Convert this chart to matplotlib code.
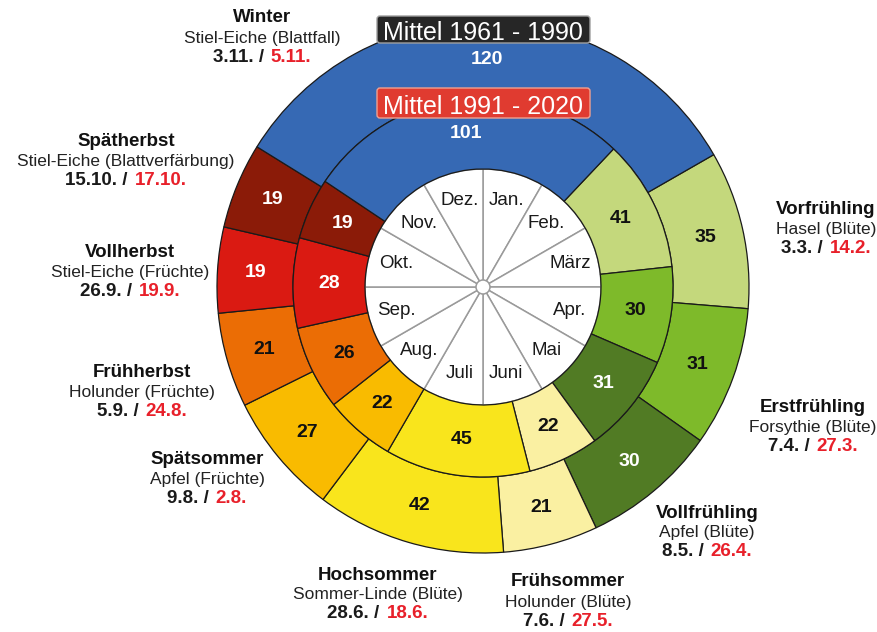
import numpy as np
import matplotlib.pyplot as plt
from matplotlib.patches import Circle, FancyBboxPatch

plt.rcParams['font.family'] = ['Liberation Sans', 'DejaVu Sans']

# phenologische Jahreszeiten, im Uhrzeigersinn ab Vorfruehling
phases = ['Vorfrühling', 'Erstfrühling', 'Vollfrühling', 'Frühsommer', 'Hochsommer',
          'Spätsommer', 'Frühherbst', 'Vollherbst', 'Spätherbst', 'Winter']
indicators = ['Hasel (Blüte)', 'Forsythie (Blüte)', 'Apfel (Blüte)', 'Holunder (Blüte)',
              'Sommer-Linde (Blüte)', 'Apfel (Früchte)', 'Holunder (Früchte)',
              'Stiel-Eiche (Früchte)', 'Stiel-Eiche (Blattverfärbung)', 'Stiel-Eiche (Blattfall)']
days_6190 = [35, 31, 30, 21, 42, 27, 21, 19, 19, 120]
days_9120 = [41, 30, 31, 22, 45, 22, 26, 28, 19, 101]
start_6190 = ['3.3.', '7.4.', '8.5.', '7.6.', '28.6.', '9.8.', '5.9.', '26.9.', '15.10.', '3.11.']
start_9120 = ['14.2.', '27.3.', '26.4.', '27.5.', '18.6.', '2.8.', '24.8.', '19.9.', '17.10.', '5.11.']
months = ['Jan.', 'Feb.', 'März', 'Apr.', 'Mai', 'Juni', 'Juli', 'Aug.', 'Sep.', 'Okt.', 'Nov.', 'Dez.']

colors = ['#c4d87c', '#7eba2a', '#517b24', '#faf0a2', '#f9e51c',
          '#f9bb00', '#eb6d05', '#da1a12', '#8b1b08', '#3669b4']
white_txt = [False, False, True, False, False, False, False, True, True, True]

# label anchors in pixel coords (x, y of first line)
label_pos = [(826, 210), (813, 408), (707, 513), (568, 582), (378, 575),
             (207, 460), (142, 373), (130, 253), (126, 142), (262, 18)]

CX, CY = 483, 287
R_MON, R_MID, R_OUT = 118, 190, 266
cum = np.cumsum([0, 31, 28, 31, 30, 31, 30, 31, 31, 30, 31, 30])


def doy(s):
    d, m = s.strip('.').split('.')
    return cum[int(m) - 1] + int(d) - 1


def P(px, py):
    return px - CX, CY - py


fig = plt.figure(figsize=(8.78, 6.32), dpi=100)
ax = fig.add_axes([0, 0, 1, 1])

# months
ax.pie([1] * 12, radius=R_MON, startangle=90, counterclock=False, colors=['white'] * 12,
       wedgeprops=dict(edgecolor='#9a9a9a', linewidth=1.1))
for i, m in enumerate(months):
    a = np.deg2rad(15 + 30 * i)
    ax.text(90 * np.sin(a), 90 * np.cos(a), m, ha='center', va='center',
            fontsize=13.5, color='#1a1a1a')
ax.add_patch(Circle((0, 0), 7, fc='white', ec='#9a9a9a', lw=1.1, zorder=3))

# rings
for vals, starts, r_o, r_i in [(days_6190, start_6190, R_OUT, R_MID),
                               (days_9120, start_9120, R_MID, R_MON)]:
    s0 = doy(starts[0])
    ax.pie(vals, radius=r_o, startangle=90 - s0 / 365 * 360, counterclock=False,
           colors=colors, wedgeprops=dict(width=r_o - r_i, edgecolor='#1a1a1a', linewidth=0.9))
    edges = s0 + np.concatenate([[0], np.cumsum(vals)])
    rm = (r_o + r_i) / 2
    for k, v in enumerate(vals):
        a = np.deg2rad((edges[k] + v / 2) / 365 * 360)
        ax.text(rm * np.sin(a), rm * np.cos(a), str(v), ha='center', va='center',
                fontsize=14, fontweight='bold',
                color='white' if white_txt[k] else '#111111')

# period boxes
for (y0, y1), txt, fc, ec in [((16, 43), 'Mittel 1961 - 1990', '#262626', '#a0a0a0'),
                              ((88, 118), 'Mittel 1991 - 2020', '#e03b30', '#f0a090')]:
    x0, yb = P(377, y1)
    ax.add_patch(FancyBboxPatch((x0, yb), 213, y1 - y0,
                                boxstyle='round,pad=0,rounding_size=3',
                                fc=fc, ec=ec, lw=1, zorder=4))
    ax.text(0, P(0, (y0 + y1) / 2 + 1)[1], txt, ha='center', va='center_baseline',
            fontsize=18, color='white', zorder=5)

renderer = fig.canvas.get_renderer()
for k, ph in enumerate(phases):
    x, y = P(*label_pos[k])
    ax.text(x, y, ph, ha='center', va='center', fontsize=13.5, fontweight='bold', color='#111111')
    ax.text(x, y - 20, indicators[k], ha='center', va='center', fontsize=12.5, color='#222222')
    t1 = ax.text(0, y - 39, start_6190[k] + ' /', ha='left', va='center',
                 fontsize=13.5, fontweight='bold', color='#1a1a1a')
    t2 = ax.text(0, y - 39, start_9120[k], ha='left', va='center',
                 fontsize=13.5, fontweight='bold', color='#e8202a')
    w1 = t1.get_window_extent(renderer).width
    w2 = t2.get_window_extent(renderer).width
    xs = x - (w1 + 7 + w2) / 2
    t1.set_x(xs)
    t2.set_x(xs + w1 + 7)

ax.set_xlim(-CX, 878 - CX)
ax.set_ylim(CY - 632, CY)
ax.set_aspect('equal')
ax.axis('off')

fig.savefig('out.png', dpi=100)
